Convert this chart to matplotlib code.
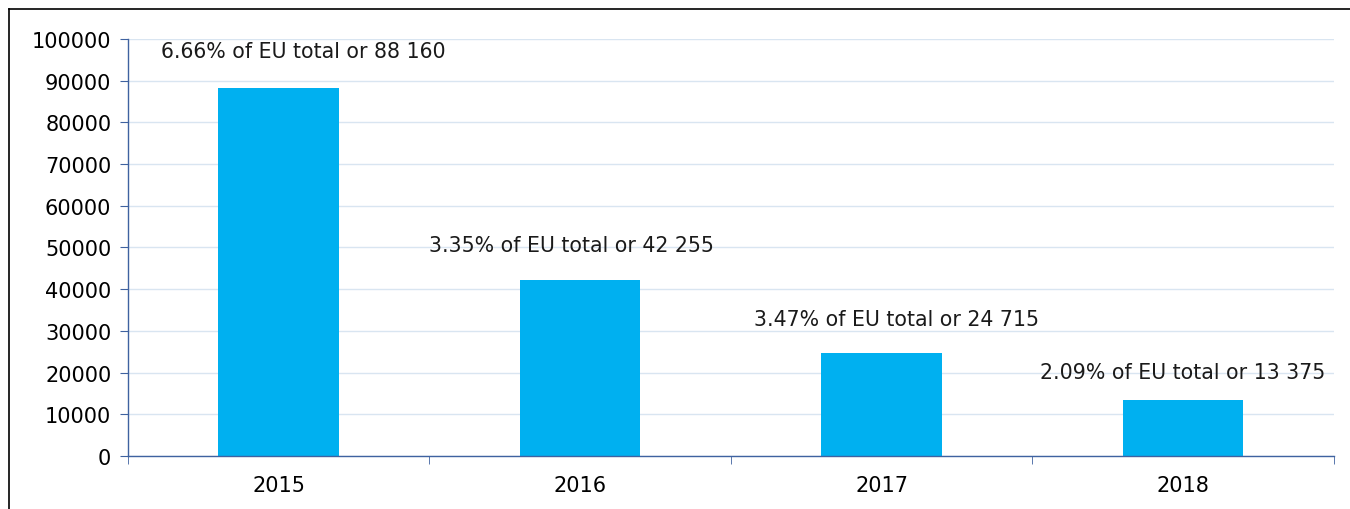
import numpy as np
import matplotlib
matplotlib.use('Agg')
import matplotlib.pyplot as plt
from matplotlib.lines import Line2D

years = ['2015', '2016', '2017', '2018']
values = [88160, 42255, 24715, 13375]
shares = ['6.66%', '3.35%', '3.47%', '2.09%']
value_text = ['88 160', '42 255', '24 715', '13 375']

plt.rcParams['font.family'] = ['DejaVu Sans']

fig = plt.figure(figsize=(13.5, 5.1), dpi=100)
ax = fig.add_axes([0.0948, 0.104, 0.8932, 0.8176])

x = np.arange(len(years))
ax.bar(x, values, width=0.4, color='#00B0F0', zorder=2)

# label offsets (x in categories, y in data units)
dx = [0.08, -0.03, 0.05, 0.0]
dy = [8900, 8300, 8100, 6800]
for i in range(len(years)):
    ax.text(x[i] + dx[i], values[i] + dy[i], shares[i] + ' of EU total or ' + value_text[i],
            ha='center', va='center', fontsize=14.8, color='#1a1a1a', zorder=3)

ax.set_xlim(-0.5, len(years) - 0.5)
ax.set_ylim(0, 100000)
ax.set_yticks(np.arange(0, 100001, 10000))
ax.set_xticks(x)
ax.set_xticklabels(years)
ax.set_xticks(np.arange(-0.5, len(years), 1), minor=True)

spine_col = '#3F62A0'
for s in ['top', 'right']:
    ax.spines[s].set_visible(False)
for s in ['left', 'bottom']:
    ax.spines[s].set_color(spine_col)
    ax.spines[s].set_linewidth(1.0)

ax.grid(axis='y', color='#D9E5F1', linewidth=1.0, zorder=0)
ax.set_axisbelow(True)
ax.tick_params(axis='y', length=6, color=spine_col, labelsize=15, pad=6)
ax.tick_params(axis='x', which='major', length=0, labelsize=15, pad=14)
ax.tick_params(axis='x', which='minor', length=6, color=spine_col)

# frame lines round the figure (top and left)
fig.add_artist(Line2D([9/1350, 1], [1 - 10/510, 1 - 10/510], color='black', linewidth=1.2))
fig.add_artist(Line2D([9/1350, 9/1350], [0, 1 - 10/510], color='black', linewidth=1.2))

fig.savefig('out.png', dpi=100)
